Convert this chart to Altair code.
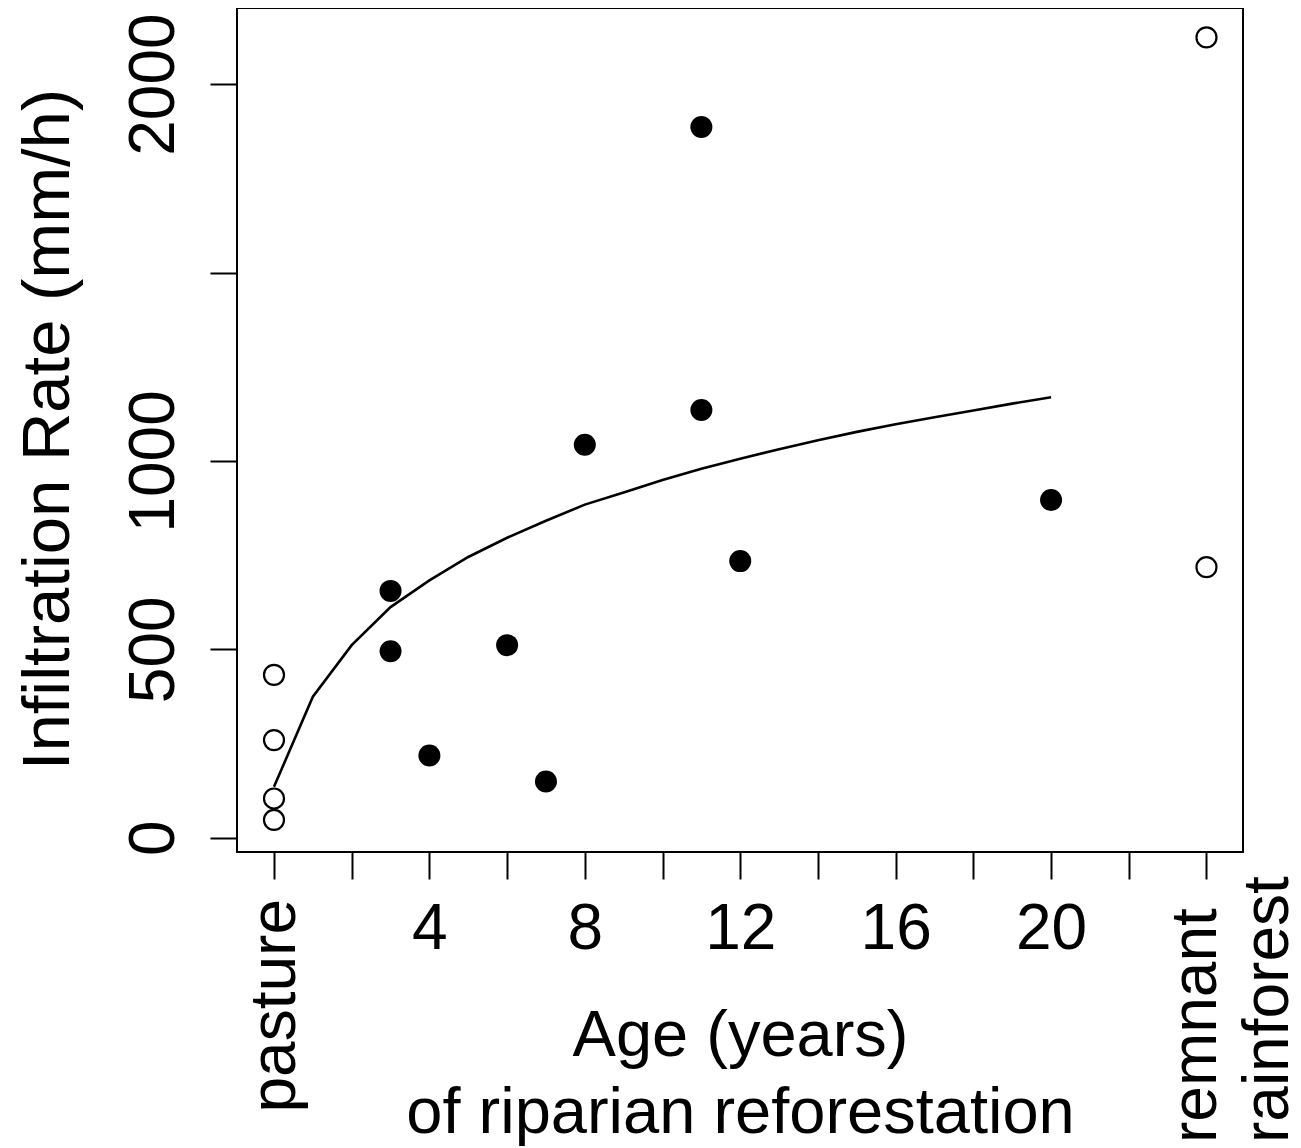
import altair as alt
import pandas as pd

# ---- data ----
pasture_rate = [432, 259, 104, 47]          # open circles at "pasture" (x = 0)
forest_rate = [2124, 718]                   # open circles at "remnant rainforest" (x = 24)
ages = [3, 3, 4, 6, 7, 8, 11, 11, 12, 20]   # reforestation age (years)
rates = [655, 495, 218, 511, 149, 1043, 1886, 1135, 734, 896]
curve_age = list(range(0, 21))
curve_rate = [135, 374, 511, 612, 683, 745, 796, 841, 884, 916, 949,
              979, 1006, 1031, 1055, 1077, 1097, 1116, 1134, 1152, 1169]
PASTURE_X = 0
FOREST_X = 24
x_ticks = list(range(0, 25, 2))
y_ticks = [0, 500, 1000, 1500, 2000]
cat_labels = ["pasture"]
forest_label = ["remnant", "rainforest"]

FONT = "Liberation Sans"
W, H = 1006, 844

open_df = pd.DataFrame({
    "age": [PASTURE_X] * len(pasture_rate) + [FOREST_X] * len(forest_rate),
    "rate": pasture_rate + forest_rate,
})
filled_df = pd.DataFrame({"age": ages, "rate": rates})
curve_df = pd.DataFrame({"age": curve_age, "rate": curve_rate})
pasture_df = pd.DataFrame({"age": [PASTURE_X], "text": cat_labels})
forest_df = pd.DataFrame({"age": [FOREST_X]})

xs = alt.Scale(domain=[-0.952, 24.94], nice=False, zero=False)
ys = alt.Scale(domain=[-38, 2202], nice=False, zero=False)

x_axis = alt.Axis(
    values=x_ticks,
    labelExpr="(datum.value % 4 == 0 && datum.value > 0 && datum.value < 24) ? datum.label : ''",
    format="d",
    tickSize=27, tickWidth=2, tickColor="black",
    domain=False, grid=False,
    labelFont=FONT, labelFontSize=64, labelColor="black",
    labelAngle=0, labelAlign="center", labelBaseline="alphabetic",
    labelPadding=69, labelOverlap=False, labelFlush=False,
    title=["Age (years)", "of riparian reforestation"],
    titleFont=FONT, titleFontSize=65, titleFontWeight="normal", titleColor="black",
    titleLineHeight=77, titleBaseline="alphabetic", titleAlign="center",
    titleX=W / 2, titleY=203,
)
y_axis = alt.Axis(
    values=y_ticks,
    format="d",
    labelExpr="datum.value == 1500 ? '' : datum.label",
    tickSize=27, tickWidth=2, tickColor="black",
    domain=False, grid=False,
    labelFont=FONT, labelFontSize=64, labelColor="black",
    labelAngle=270, labelAlign="center", labelBaseline="alphabetic",
    labelPadding=37, labelOverlap=False, labelFlush=False,
    title="Infiltration Rate (mm/h)",
    titleFont=FONT, titleFontSize=67, titleFontWeight="normal", titleColor="black",
    titleAngle=270, titleBaseline="alphabetic", titleAlign="center",
    titleX=-169, titleY=421,
)

X = alt.X("age:Q", scale=xs, axis=x_axis)
Y = alt.Y("rate:Q", scale=ys, axis=y_axis)

curve = alt.Chart(curve_df).mark_line(color="black", strokeWidth=2.6).encode(x=X, y=Y)
open_pts = alt.Chart(open_df).mark_point(
    shape="circle", filled=False, size=400, strokeWidth=2.2, color="black", opacity=1
).encode(x=X, y=Y)
filled_pts = alt.Chart(filled_df).mark_point(
    shape="circle", filled=True, size=484, color="black", opacity=1
).encode(x=X, y=Y)

pasture_txt = alt.Chart(pasture_df).mark_text(
    angle=270, align="right", baseline="alphabetic", dy=21,
    font=FONT, fontSize=64, color="black"
).encode(x=alt.X("age:Q", scale=xs), y=alt.value(891), text="text:N")

forest_txt = alt.Chart(forest_df).mark_text(
    angle=270, align="left", baseline="alphabetic", dy=10,
    font=FONT, fontSize=64, color="black", lineHeight=72, text=forest_label
).encode(x=alt.X("age:Q", scale=xs), y=alt.value(1135))

chart = alt.layer(curve, open_pts, filled_pts, pasture_txt, forest_txt).properties(
    width=W, height=H,
    autosize=alt.AutoSizeParams(type="none"),
    padding={"left": 229, "top": 0, "right": 50, "bottom": 296},
    background="white",
).configure_view(stroke="black", strokeWidth=2)

chart.save("out.html", embed_options={"renderer": "svg", "actions": False})
